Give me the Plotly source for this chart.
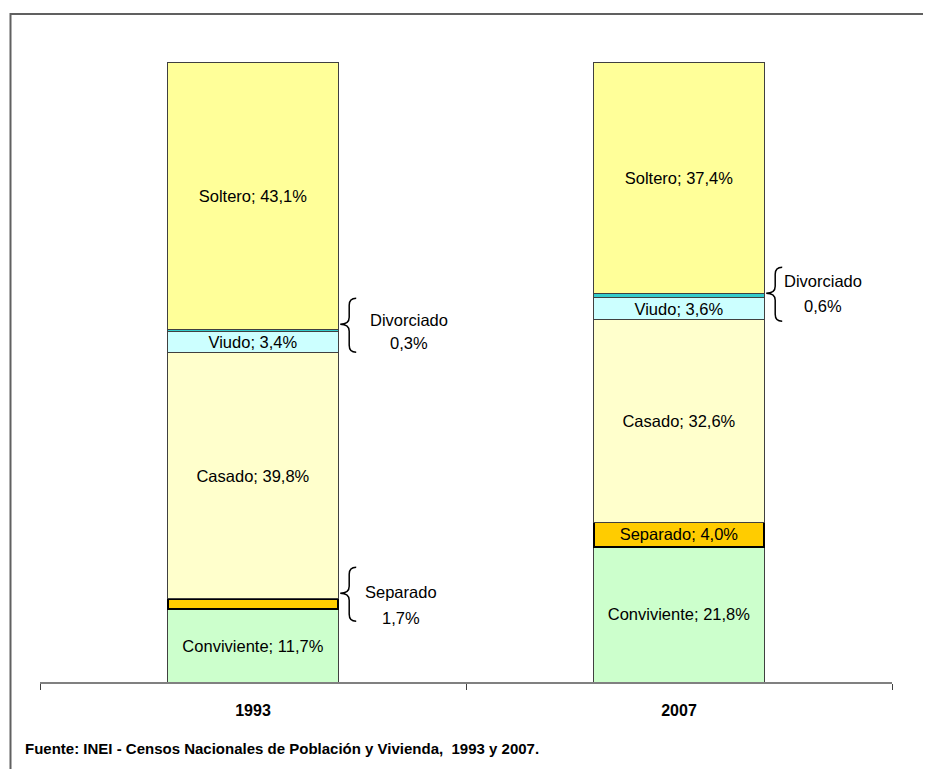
import plotly.graph_objects as go

years = ["1993", "2007"]
categories = ["Conviviente", "Separado", "Casado", "Viudo", "Divorciado", "Soltero"]
values_1993 = [11.7, 1.7, 39.8, 3.4, 0.3, 43.1]
values_2007 = [21.8, 4.0, 32.6, 3.6, 0.6, 37.4]
colors = ["#CCFFCC", "#FFCC00", "#FFFFCC", "#CCFFFF", "#33CCCC", "#FFFF99"]
line_colors = ["#404040", "#000000", "#404040", "#404040", "#404040", "#404040"]
line_widths = [1, 2, 1, 1, 1, 1]
# whether the label is drawn inside the bar (otherwise it is shown with a brace)
inside_1993 = [True, False, True, True, False, True]
inside_2007 = [True, True, True, True, False, True]
footer = "Fuente: INEI - Censos Nacionales de Población y Vivienda,  1993 y 2007."

FONT = "Liberation Sans, Arial, sans-serif"

def fmt(v):
    return f"{v:.1f}".replace(".", ",") + "%"

fig = go.Figure()
for i, cat in enumerate(categories):
    vals = [values_1993[i], values_2007[i]]
    shows = [inside_1993[i], inside_2007[i]]
    txt = [f"{cat}; {fmt(v)}" if s else "" for v, s in zip(vals, shows)]
    fig.add_trace(go.Bar(
        x=years, y=vals, name=cat, text=txt,
        textposition="inside", insidetextanchor="middle", textangle=0,
        constraintext="none",
        textfont=dict(family=FONT, size=16.5, color="black"),
        marker=dict(color=colors[i], line=dict(color=line_colors[i], width=line_widths[i])),
        width=0.4, hoverinfo="skip",
    ))

W_PX = 852.0
H_PX = 620.5
Y_PX = H_PX / 100.0

def brace_path(x_edge, ytip, up_px=26, down_px=28):
    dx = lambda p: p / W_PX
    dy = lambda p: p / Y_PX
    xt = x_edge + dx(2); xm = x_edge + dx(11); xe = x_edge + dx(18)
    yt = ytip + dy(up_px); yb = ytip - dy(down_px)
    r = dy(7)
    return (f"M {xe},{yt} Q {xm},{yt} {xm},{yt - r} L {xm},{ytip + r} "
            f"Q {xm},{ytip} {xt},{ytip} Q {xm},{ytip} {xm},{ytip - r} "
            f"L {xm},{yb + r} Q {xm},{yb} {xe},{yb}")

def cum_top(vals, idx):
    return sum(vals[: idx + 1])

# braces: (year index, category index, text x offset px, text y shift px, half line gap px, tip offset)
brace_specs = [(0, 4, 71, -7, 11.5, 0.8), (0, 1, 63, -12, 13, 0.9), (1, 4, 59, 0, 12.5, 0.1)]
all_vals = [values_1993, values_2007]
for yi, ci, xoff, yshift, gap, off in brace_specs:
    vals = all_vals[yi]
    ytip = cum_top(vals, ci) + off
    x_edge = (yi + 0.5) / 2 + 0.1
    fig.add_shape(type="path", xref="paper", yref="y", path=brace_path(x_edge, ytip),
                  line=dict(color="black", width=1.5))
    for txt, sh in [(categories[ci], yshift + gap), (fmt(vals[ci]), yshift - gap)]:
        fig.add_annotation(xref="paper", yref="y", x=x_edge + xoff / W_PX, y=ytip,
                           xanchor="center", yanchor="middle",
                           yshift=sh, showarrow=False, align="center", text=txt,
                           font=dict(family=FONT, size=16.5, color="black"))

fig.add_annotation(xref="paper", yref="paper", x=-17 / W_PX, y=-67 / H_PX,
                   xanchor="left", yanchor="middle", showarrow=False,
                   text=f"<b>{footer}</b>", font=dict(family=FONT, size=15, color="black"))

# outer frame
fig.add_shape(type="rect", xref="paper", yref="paper",
              x0=-29.5 / W_PX, x1=1.2, y0=-0.3, y1=(674 - 5.5) / H_PX,
              line=dict(color="#606060", width=2), fillcolor="rgba(0,0,0,0)", layer="below")

fig.update_layout(
    barmode="stack", width=923, height=761,
    margin=dict(l=32, r=39, t=53.5, b=87),
    paper_bgcolor="white", plot_bgcolor="white", showlegend=False,
    xaxis=dict(type="category", range=[-0.5, 1.5], showline=True, linecolor="#808080",
               linewidth=1.5, ticks="outside", tickson="boundaries", ticklen=6,
               tickcolor="#404040", showgrid=False, zeroline=False,
               tickfont=dict(family=FONT, size=16, color="black"),
               ticklabelstandoff=13, tickprefix="<b>", ticksuffix="</b>"),
    yaxis=dict(range=[0, 100], visible=False, showgrid=False, zeroline=False),
)

fig.write_html("out.html")
